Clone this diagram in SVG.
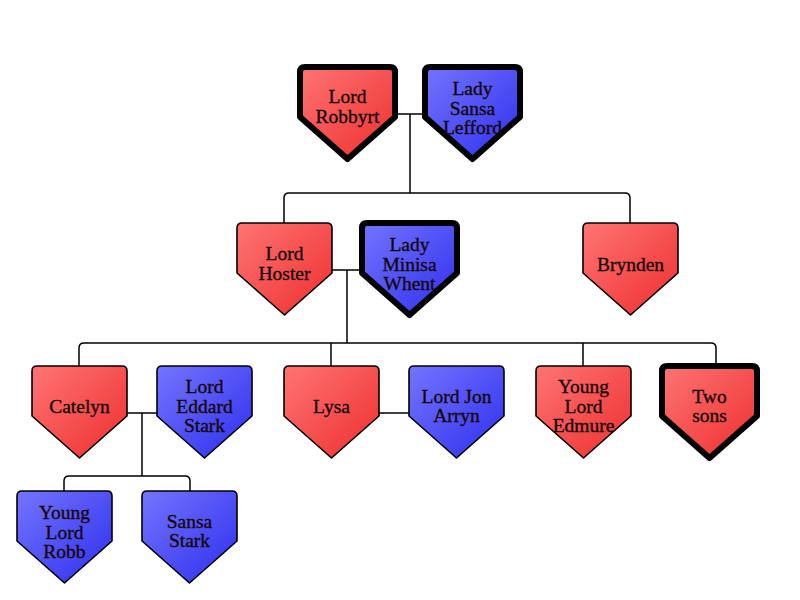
<svg xmlns="http://www.w3.org/2000/svg" width="800" height="600" viewBox="0 0 800 600">
<defs>
  <linearGradient id="gr" x1="0" y1="0" x2="1" y2="1">
    <stop offset="0" stop-color="#ff7474"/>
    <stop offset="1" stop-color="#ee2e2e"/>
  </linearGradient>
  <linearGradient id="gb" x1="0" y1="0" x2="1" y2="1">
    <stop offset="0" stop-color="#7474ff"/>
    <stop offset="1" stop-color="#2e2eee"/>
  </linearGradient>
  <path id="shape" d="M5,0 H90 Q95,0 95,5 V50 L47.5,92 L0,50 V5 Q0,0 5,0 Z"/>
</defs>
<style>
  .red { fill: url(#gr); }
  .blue { fill: url(#gb); }
  .n use { stroke: #000; stroke-width: 1.6; stroke-linejoin: round; }
  .n.thick use { stroke-width: 6; }
  .n text { font-family: "Liberation Serif", "DejaVu Serif", serif; font-size: 19.5px; fill: #140808; stroke: #140808; stroke-width: 0.35; text-anchor: middle; }
  .c path { fill: none; stroke: #000; stroke-width: 1.5; stroke-linejoin: round; }
</style>
<rect width="800" height="600" fill="#fff"/>
<g id="connectors" class="c">
  <path d="M395,114 H425"/>
  <path d="M410,114 V193"/>
  <path d="M284,223 V198 Q284,193 289,193 H625 Q630,193 630,198 V223"/>
  <path d="M332,270 H362"/>
  <path d="M347,270 V343"/>
  <path d="M79,366 V348 Q79,343 84,343 H711 Q716,343 716,348 V366"/>
  <path d="M331,343 V366"/>
  <path d="M583,343 V366"/>
  <path d="M127,413 H157"/>
  <path d="M142,413 V476"/>
  <path d="M64,491 V481 Q64,476 69,476 H185 Q190,476 190,481 V491"/>
  <path d="M379,413 H409"/>
</g>
<g id="robbyrt" class="n thick" transform="translate(300,67)">
  <use href="#shape" class="red"/>
  <text x="47.5" y="36">Lord</text><text x="47.5" y="56">Robbyrt</text>
</g>
<g id="sansa_lefford" class="n thick" transform="translate(425,67)">
  <use href="#shape" class="blue"/>
  <text x="47.5" y="28">Lady</text><text x="47.5" y="48">Sansa</text><text x="47.5" y="67">Lefford</text>
</g>
<g id="hoster" class="n" transform="translate(237,223)">
  <use href="#shape" class="red"/>
  <text x="47.5" y="37">Lord</text><text x="47.5" y="57">Hoster</text>
</g>
<g id="minisa" class="n thick" transform="translate(362,223)">
  <use href="#shape" class="blue"/>
  <text x="47.5" y="28">Lady</text><text x="47.5" y="48">Minisa</text><text x="47.5" y="67">Whent</text>
</g>
<g id="brynden" class="n" transform="translate(583,223)">
  <use href="#shape" class="red"/>
  <text x="47.5" y="48">Brynden</text>
</g>
<g id="catelyn" class="n" transform="translate(32,366)">
  <use href="#shape" class="red"/>
  <text x="47.5" y="47">Catelyn</text>
</g>
<g id="eddard" class="n" transform="translate(157,366)">
  <use href="#shape" class="blue"/>
  <text x="47.5" y="27">Lord</text><text x="47.5" y="47">Eddard</text><text x="47.5" y="66">Stark</text>
</g>
<g id="lysa" class="n" transform="translate(284,366)">
  <use href="#shape" class="red"/>
  <text x="47.5" y="47">Lysa</text>
</g>
<g id="jon_arryn" class="n" transform="translate(409,366)">
  <use href="#shape" class="blue"/>
  <text x="47.5" y="37">Lord Jon</text><text x="47.5" y="56">Arryn</text>
</g>
<g id="edmure" class="n" transform="translate(536,366)">
  <use href="#shape" class="red"/>
  <text x="47.5" y="27">Young</text><text x="47.5" y="47">Lord</text><text x="47.5" y="66">Edmure</text>
</g>
<g id="two_sons" class="n thick" transform="translate(662,366)">
  <use href="#shape" class="red"/>
  <text x="47.5" y="37">Two</text><text x="47.5" y="56">sons</text>
</g>
<g id="robb" class="n" transform="translate(17,491)">
  <use href="#shape" class="blue"/>
  <text x="47.5" y="28">Young</text><text x="47.5" y="48">Lord</text><text x="47.5" y="67">Robb</text>
</g>
<g id="sansa_stark" class="n" transform="translate(142,491)">
  <use href="#shape" class="blue"/>
  <text x="47.5" y="37">Sansa</text><text x="47.5" y="56">Stark</text>
</g>
</svg>
